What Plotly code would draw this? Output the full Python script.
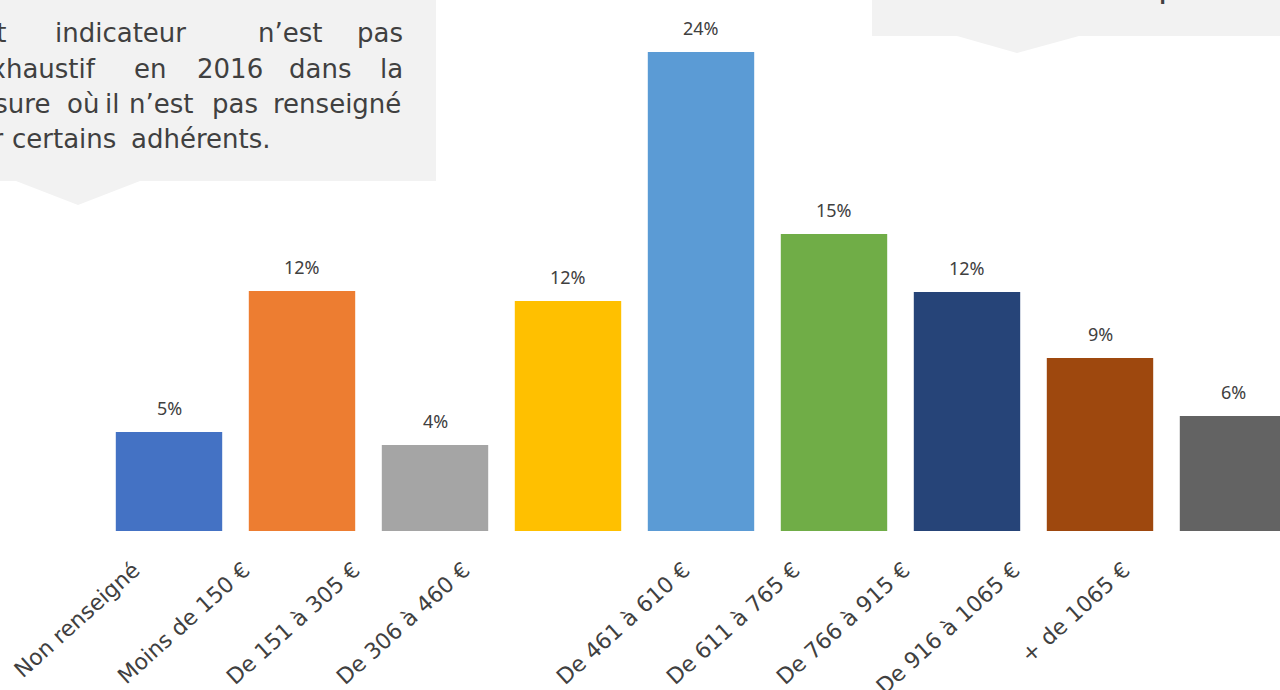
import plotly.graph_objects as go

# data
categories = ["Non renseigné", "Moins de 150 €", "De 151 à 305 €", "De 306 à 460 €",
              "De 461 à 610 €", "De 611 à 765 €", "De 766 à 915 €", "De 916 à 1065 €",
              "+ de 1065 €"]
shares = [4.96, 12.02, 4.31, 11.52, 24.0, 14.88, 11.97, 8.67, 5.76]
colors = ["#4472C4", "#ED7D31", "#A5A5A5", "#FFC000", "#5B9BD5",
          "#70AD47", "#264478", "#9E480E", "#636363"]
# label slots on the label axis (the reference leaves one empty slot mid-way)
label_slots = [0, 1, 2, 3, 5, 6, 7, 8, 9]

W, H = 1280, 690
B = 159                 # bottom margin
PH = H - B              # plot height in px

def px(x):
    return x / W

def py(y):
    return 1 - y / PH

txt_col = "#404040"
lbl_font = "DejaVu Sans"

fig = go.Figure()
fig.add_trace(go.Bar(x=categories, y=shares, marker_color=colors,
                     marker_line_width=0, hoverinfo="skip"))
# carrier for the label axis
fig.add_trace(go.Scatter(x=[None], y=[None], xaxis="x2", yaxis="y",
                         showlegend=False, hoverinfo="skip"))

annots = []
# value labels above bars
for c, v in zip(categories, shares):
    annots.append(dict(x=c, y=v, xref="x", yref="y", text=f"{v:.0f}%",
                       showarrow=False, yanchor="middle", yshift=24,
                       font=dict(family="Noto Sans", size=18, color=txt_col)))

# callout text (top left, cut off at the edge, justified word by word)
def word(t, x, y, anchor, size=26):
    annots.append(dict(x=px(x), y=py(y), xref="paper", yref="paper", text=t,
                       showarrow=False, xanchor=anchor, yanchor="middle",
                       font=dict(family=lbl_font, size=size, color=txt_col)))

word("Cet", 8, 33, "right")
word("indicateur", 53, 33, "left")
word("n’est", 256, 33, "left")
word("pas", 405, 33, "right")
word("exhaustif", 98, 69, "right")
word("en", 132, 69, "left")
word("2016", 195, 69, "left")
word("dans", 287, 69, "left")
word("la", 405, 69, "right")
word("mesure", 52, 104, "right")
word("où", 65, 104, "left")
word("il", 103, 104, "left")
word("n’est", 127, 104, "left")
word("pas", 210, 104, "left")
word("renseigné", 271, 104, "left")
word("par", 5, 139, "right")
word("certains", 10, 139, "left")
word("adhérents.", 129, 139, "left")
word("p", 1169, -15, "center", size=34)

shapes = [
    dict(type="path", xref="paper", yref="paper", layer="below",
         path=f"M {px(0)},{py(0)} L {px(436)},{py(0)} L {px(436)},{py(181)} "
              f"L {px(140)},{py(181)} L {px(78)},{py(205)} L {px(16)},{py(181)} "
              f"L {px(0)},{py(181)} Z",
         fillcolor="#F2F2F2", line_width=0),
    dict(type="path", xref="paper", yref="paper", layer="below",
         path=f"M {px(872)},{py(0)} L {px(1280)},{py(0)} L {px(1280)},{py(36)} "
              f"L {px(1079)},{py(36)} L {px(1017)},{py(53)} L {px(957)},{py(36)} "
              f"L {px(872)},{py(36)} Z",
         fillcolor="#F2F2F2", line_width=0),
]

# bars: category 0 centred at 169 px, 133 px per category
x0 = -169 / 133
x1 = (W - 169) / 133
# labels: slot 0 at 134 px, 110 px per slot
l0 = -134 / 110
l1 = (W - 134) / 110

fig.update_layout(
    width=W, height=H,
    margin=dict(l=0, r=0, t=0, b=B),
    plot_bgcolor="white", paper_bgcolor="white",
    bargap=0.2, showlegend=False,
    xaxis=dict(range=[x0, x1], showticklabels=False, showgrid=False,
               showline=False, zeroline=False, ticks="", automargin=False),
    xaxis2=dict(range=[l0, l1], overlaying="x", anchor="y", side="bottom",
                tickmode="array", tickvals=label_slots, ticktext=categories,
                tickangle=-42, ticklabelstandoff=21, showgrid=False,
                showline=False, zeroline=False, ticks="", automargin=False,
                tickfont=dict(family=lbl_font, size=22, color=txt_col)),
    yaxis=dict(range=[0, PH / 19.96], visible=False, showgrid=False,
               automargin=False),
    annotations=annots, shapes=shapes,
)

fig.write_html("out.html", config={"displayModeBar": False},
               post_script="document.body.style.margin='0';")
